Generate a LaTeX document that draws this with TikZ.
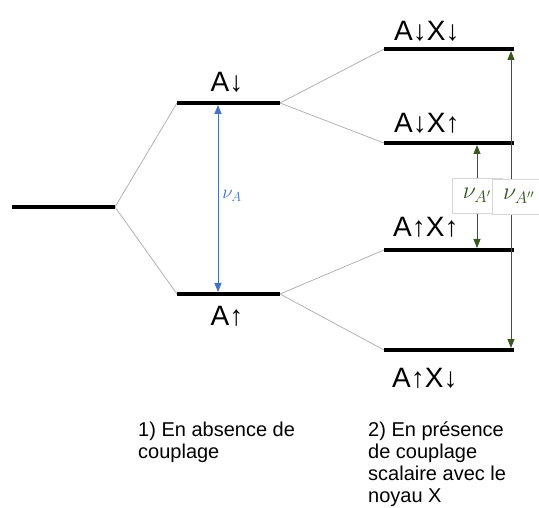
\documentclass[tikz,border=0pt]{standalone}
\usepackage{fix-cm}
\usepackage{fontspec}
\setmainfont{Liberation Sans}
\usetikzlibrary{arrows.meta}
\definecolor{lvlblue}{RGB}{68,114,196}
\definecolor{lvlgreen}{RGB}{56,87,35}
\definecolor{conngray}{RGB}{170,170,170}
\definecolor{boxgray}{RGB}{215,215,215}
\begin{document}
\begin{tikzpicture}[x=1pt,y=-1pt,
  lvl/.style={line width=4pt},
  link/.style={draw=conngray, line width=0.7pt},
  dbl/.style={{Triangle[width=7pt,length=9pt]}-{Triangle[width=7pt,length=9pt]}, line width=0.8pt},
  statelbl/.style={font=\fontsize{28}{30}\selectfont, inner sep=0pt},
  caption/.style={font=\fontsize{20}{21.7}\selectfont, align=left, inner sep=0pt, anchor=north west},
  nubox/.style={draw=boxgray, fill=white, minimum width=50pt, minimum height=35pt, inner sep=0pt, text=lvlgreen, font=\fontsize{24}{26}\selectfont}
]
\useasboundingbox (0,0) rectangle (539,508);
\clip (0,0) rectangle (539,508);
% level end points
\coordinate (L0a) at (12,207);  \coordinate (L0b) at (115,207);
\coordinate (A1a) at (177,103); \coordinate (A1b) at (280,103);
\coordinate (A2a) at (177,294); \coordinate (A2b) at (280,294);
\coordinate (R1a) at (384,49);  \coordinate (R1b) at (514,49);
\coordinate (R2a) at (384,143); \coordinate (R2b) at (514,143);
\coordinate (R3a) at (384,250); \coordinate (R3b) at (514,250);
\coordinate (R4a) at (384,350); \coordinate (R4b) at (514,350);
% connectors
\draw[link] (L0b) -- (A1a);
\draw[link] (L0b) -- (A2a);
\draw[link] (A1b) -- (R1a);
\draw[link] (A1b) -- (R2a);
\draw[link] (A2b) -- (R3a);
\draw[link] (A2b) -- (R4a);
% levels
\draw[lvl] (L0a) -- (L0b);
\draw[lvl] (A1a) -- (A1b);
\draw[lvl] (A2a) -- (A2b);
\draw[lvl] (R1a) -- (R1b);
\draw[lvl] (R2a) -- (R2b);
\draw[lvl] (R3a) -- (R3b);
\draw[lvl] (R4a) -- (R4b);
% transition arrows
\coordinate (bT) at (218,105); \coordinate (bB) at (218,292);
\draw[dbl, lvlblue, line width=0.9pt] (bT) -- (bB);
\node[text=lvlblue, font=\fontsize{19}{21}\selectfont, inner sep=0pt] (nuA) at (232,196) {$\nu_A$};
\coordinate (gsT) at (477,145); \coordinate (gsB) at (477,248);
\coordinate (glT) at (511,51);  \coordinate (glB) at (511,348);
\draw[dbl, lvlgreen] (gsT) -- (gsB);
\draw[dbl, lvlgreen] (glT) -- (glB);
\node[nubox] (nuA1) at (477,195.5) {$\nu_{A'}$};
\node[nubox, minimum width=54pt] (nuA2) at (519,196.5) {$\nu_{A''}$};
% state labels
\node[statelbl, anchor=base] (tA1) at (227,92) {A↓};
\node[statelbl, anchor=base] (tA2) at (227,326) {A↑};
\node[statelbl, anchor=base west] (t1) at (394,41) {A↓X↓};
\node[statelbl, anchor=base west] (t2) at (394,133) {A↓X↑};
\node[statelbl, anchor=base west] (t3) at (393,237) {A↑X↑};
\node[statelbl, anchor=base west] (t4) at (392,387) {A↑X↓};
% captions
\node[caption] (c1) at (138,422) {1) En absence de\\couplage};
\node[caption] (c2) at (368,422) {2) En présence\\de couplage\\scalaire avec le\\noyau X};
\end{tikzpicture}
\end{document}
